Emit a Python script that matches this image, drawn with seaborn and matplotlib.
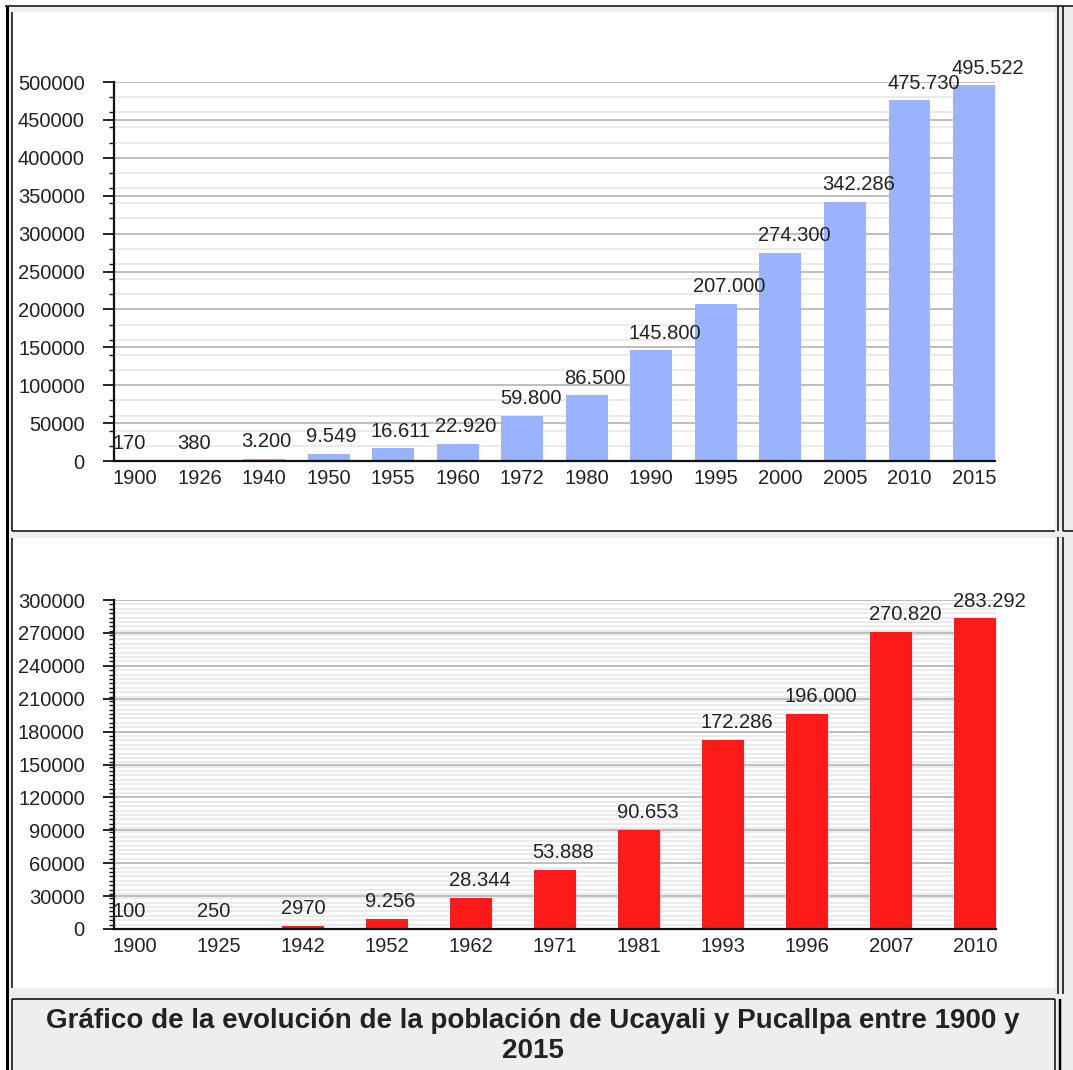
import numpy as np
import pandas as pd
import matplotlib.pyplot as plt
import seaborn as sns
from matplotlib.ticker import MultipleLocator, FuncFormatter
from matplotlib.patches import Rectangle

# Ucayali
ucayali_years = ['1900', '1926', '1940', '1950', '1955', '1960', '1972',
                 '1980', '1990', '1995', '2000', '2005', '2010', '2015']
ucayali_pop = [170, 380, 3200, 9549, 16611, 22920, 59800,
               86500, 145800, 207000, 274300, 342286, 475730, 495522]
ucayali_labels = ['170', '380', '3.200', '9.549', '16.611', '22.920', '59.800',
                  '86.500', '145.800', '207.000', '274.300', '342.286', '475.730', '495.522']

# Pucallpa
pucallpa_years = ['1900', '1925', '1942', '1952', '1962', '1971',
                  '1981', '1993', '1996', '2007', '2010']
pucallpa_pop = [100, 250, 2970, 9256, 28344, 53888,
                90653, 172286, 196000, 270820, 283292]
pucallpa_labels = ['100', '250', '2970', '9.256', '28.344', '53.888',
                   '90.653', '172.286', '196.000', '270.820', '283.292']

caption = 'Gráfico de la evolución de la población de Ucayali y Pucallpa entre 1900 y\n2015'

sns.set_style('ticks')
plt.rcParams['font.family'] = ['Liberation Sans', 'DejaVu Sans']

W, H = 1073, 1070
fig = plt.figure(figsize=(W / 100, H / 100), dpi=100)
fig.patch.set_facecolor('white')

# page frame drawn in pixel coordinates
bg = fig.add_axes([0, 0, 1, 1])
bg.set_xlim(0, W)
bg.set_ylim(H, 0)
bg.axis('off')
bg.set_zorder(-1)

px = 0.72
bg.add_patch(Rectangle((7, 7), W - 7, H - 7, fc='#eeeeee', ec='none'))
bg.add_patch(Rectangle((12, 12), 1043, 519, fc='white', ec='none'))
bg.add_patch(Rectangle((12, 538), 1043, 450, fc='white', ec='none'))
bg.add_patch(Rectangle((12, 999), 1043, 71, fc='#eeeeee', ec='none'))

def line(xs, ys, w=1.5):
    bg.plot(xs, ys, color='black', lw=w * px, solid_capstyle='butt')

line([5, W], [6, 6])
line([6.5, 6.5], [6, H], 3)
line([12, 12], [12, 531])
line([12, 1055], [531, 531])
line([1063, W], [531, 531])
for xx in (1057.5, 1062.5):
    line([xx, xx], [6, 531])
    line([xx, xx], [537, 994])
line([12, 12], [538, 988])
line([12, 1055], [999, 999])
line([12, 12], [999, H])
line([1055, 1055], [999, H])
line([1060, 1060], [999, H], 2.5)

bg.text(533, 1036, caption, ha='center', va='center', fontsize=20.0,
        fontweight='bold', color='#222222', linespacing=1.25)


def draw(rect, years, pop, labels, color, width, ymax, major, minor):
    ax = fig.add_axes(rect)
    sns.barplot(x=years, y=pop, color=color, saturation=1, width=width,
                errorbar=None, linewidth=0, edgecolor='none', ax=ax, zorder=3)
    n = len(years)
    ax.set_xlim(-width / 2, n - 1 + width / 2)
    ax.set_ylim(0, ymax)
    ax.set_facecolor('white')
    ax.set_xlabel('')
    ax.set_ylabel('')
    ax.yaxis.set_major_locator(MultipleLocator(major))
    ax.yaxis.set_minor_locator(MultipleLocator(minor))
    ax.yaxis.set_major_formatter(FuncFormatter(lambda v, p: f'{int(round(v))}'))
    ax.grid(which='minor', axis='y', color='#e6e6e6', lw=1.1, zorder=0)
    ax.grid(which='major', axis='y', color='#b3b3b3', lw=1.2, zorder=1)
    ax.set_axisbelow(True)
    for s in ('top', 'right'):
        ax.spines[s].set_visible(False)
    for s in ('left', 'bottom'):
        ax.spines[s].set_linewidth(1.6)
        ax.spines[s].set_color('#111111')
        ax.spines[s].set_zorder(5)
    ax.tick_params(axis='y', which='major', length=8, width=1.3,
                   pad=13, labelsize=14.5, labelcolor='#222222', color='#111111')
    ax.tick_params(axis='y', which='minor', length=3.5, width=1,
                   color='#111111')
    ax.tick_params(axis='x', length=0, pad=6, labelsize=14.5, labelcolor='#222222')
    for i, (v, lab) in enumerate(zip(pop, labels)):
        ax.annotate(lab, (i - width / 2, v), xytext=(-1, 8.5),
                    textcoords='offset points', ha='left', va='baseline',
                    fontsize=14.5, color='#222222', zorder=6,
                    annotation_clip=False)
    return ax


draw([114 / W, 1 - 461 / H, 881 / W, 379 / H], ucayali_years, ucayali_pop,
     ucayali_labels, '#99b3ff', 0.65, 500000, 50000, 20000)
draw([114 / W, 1 - 929 / H, 882 / W, 329 / H], pucallpa_years, pucallpa_pop,
     pucallpa_labels, '#ff1a1a', 0.5, 300000, 30000, 4000)

fig.savefig('out.png', dpi=100)
